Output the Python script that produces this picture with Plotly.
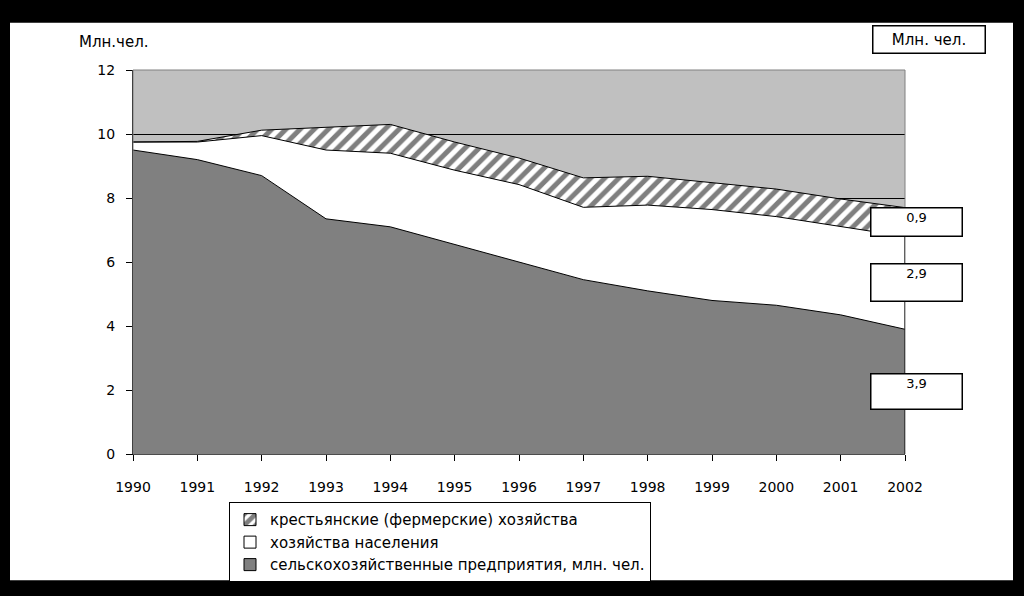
import plotly.graph_objects as go

years = [1990, 1991, 1992, 1993, 1994, 1995, 1996, 1997, 1998, 1999, 2000, 2001, 2002]
agri_enterprises = [9.5, 9.2, 8.7, 7.35, 7.1, 6.55, 6.0, 5.45, 5.1, 4.8, 4.65, 4.35, 3.9]
households = [0.25, 0.55, 1.25, 2.15, 2.3, 2.32, 2.42, 2.26, 2.68, 2.84, 2.77, 2.75, 2.9]
farms = [0.0, 0.02, 0.17, 0.7, 0.9, 0.88, 0.83, 0.92, 0.9, 0.84, 0.86, 0.87, 0.9]

names = ["сельскохозяйственные предприятия, млн. чел.",
         "хозяйства населения",
         "крестьянские (фермерские) хозяйства"]
y_ticks = [0, 2, 4, 6, 8, 10, 12]

FONT = "DejaVu Sans, Liberation Sans, Arial, sans-serif"
W, H = 1024, 599
L, R, T, B = 133, 905, 70, 460   # axis box in pixels
PB = H                           # bottom of the paper area in pixels


def px(x):
    return (x - L) / (R - L)


def py(y):
    return (PB - y) / (PB - T)


fig = go.Figure()

fig.add_trace(go.Scatter(x=years, y=agri_enterprises, name=names[0], stackgroup="s",
                         mode="lines", line=dict(color="black", width=1),
                         fillcolor="#808080", showlegend=False))
fig.add_trace(go.Scatter(x=years, y=households, name=names[1], stackgroup="s",
                         mode="lines", line=dict(color="black", width=1),
                         fillcolor="white", showlegend=False))
fig.add_trace(go.Scatter(x=years, y=farms, name=names[2], stackgroup="s",
                         mode="lines", line=dict(color="black", width=1),
                         fillcolor="white",
                         fillpattern=dict(shape="/", fgcolor="black", bgcolor="white",
                                          size=10, solidity=0.5),
                         showlegend=False))

# legend entries (square swatches)
fig.add_trace(go.Bar(x=[None], y=[None], name=names[2],
                     marker=dict(color="white", line=dict(color="black", width=1),
                                 pattern=dict(shape="/", fgcolor="black", bgcolor="white",
                                              size=12, solidity=0.6))))
fig.add_trace(go.Bar(x=[None], y=[None], name=names[1],
                     marker=dict(color="white", line=dict(color="black", width=1))))
fig.add_trace(go.Bar(x=[None], y=[None], name=names[0],
                     marker=dict(color="#808080", line=dict(color="black", width=1))))

last_a, last_h, last_f = agri_enterprises[-1], households[-1], farms[-1]
total_last = last_a + last_h + last_f

shapes = []
shapes.append(dict(type="rect", xref="paper", yref="paper", x0=0, x1=1, y0=py(B), y1=py(T),
                   line=dict(color="#808080", width=1), fillcolor="rgba(0,0,0,0)"))
shapes.append(dict(type="line", xref="x", yref="y", x0=years[-1], x1=years[-1],
                   y0=0, y1=total_last, line=dict(color="black", width=1)))
for (x0, y0, x1, y1) in [(-5, -5, W + 5, 22), (-5, 588, W + 5, H + 5),
                         (-5, -5, 10, H + 5), (1013, -5, W + 5, H + 5)]:
    shapes.append(dict(type="rect", xref="paper", yref="paper",
                       x0=px(x0), x1=px(x1), y0=py(y0), y1=py(y1),
                       line=dict(width=0), fillcolor="black"))

annotations = []
annotations.append(dict(text="Млн.чел.", xref="paper", yref="paper",
                        x=px(77), y=py(42), xanchor="left", yanchor="middle",
                        showarrow=False, font=dict(size=15, color="black", family=FONT)))
annotations.append(dict(text="Млн. чел.", xref="paper", yref="paper",
                        x=px(928.5), y=py(39.5), xanchor="center", yanchor="middle",
                        showarrow=False, width=109, height=24, borderpad=1,
                        bordercolor="black", borderwidth=1.5, bgcolor="white",
                        font=dict(size=15, color="black", family=FONT)))


def lab(v):
    return f"{v:.1f}".replace(".", ",")


for val, mid, h in [(last_f, last_a + last_h + last_f / 2, 25),
                    (last_h, last_a + last_h / 2, 34),
                    (last_a, last_a / 2, 32)]:
    annotations.append(dict(text=lab(val), xref="paper", yref="y", x=px(916.5), y=mid,
                            xanchor="center", yanchor="middle",
                            showarrow=False, width=88, height=h, valign="top",
                            borderpad=1, bordercolor="black", borderwidth=1.5,
                            bgcolor="white",
                            font=dict(size=13, color="black", family=FONT)))

fig.update_layout(
    width=W, height=H,
    margin=dict(l=L, r=W - R, t=T, b=H - PB, pad=0),
    paper_bgcolor="white",
    plot_bgcolor="white",
    font=dict(family=FONT, size=14, color="black"),
    showlegend=True,
    legend=dict(x=px(229), y=py(509), xanchor="left", yanchor="top",
                bordercolor="black", borderwidth=1, bgcolor="white",
                font=dict(size=15, color="black", family=FONT),
                traceorder="normal", tracegroupgap=0, itemwidth=30),
    shapes=shapes,
    annotations=annotations,
    xaxis=dict(range=[years[0], years[-1]], tickvals=years, ticks="outside",
               ticklen=6, tickcolor="black", showgrid=False, zeroline=False,
               showline=True, linecolor="black", linewidth=1,
               tickfont=dict(size=14, color="black"), ticklabelstandoff=14),
    yaxis=dict(range=[0, 12], tickvals=y_ticks, ticks="outside", ticklen=6,
               domain=[py(B), py(T)],
               tickcolor="black", showgrid=True, gridcolor="black", gridwidth=1,
               zeroline=False, showline=True, linecolor="black", linewidth=1,
               tickfont=dict(size=14, color="black"), ticklabelstandoff=8),
)

# grey background only behind the axis box
fig.add_shape(type="rect", xref="paper", yref="paper", x0=0, x1=1, y0=py(B), y1=py(T),
              line=dict(width=0), fillcolor="#C0C0C0", layer="below")

fig.write_html("out.html", config={"displayModeBar": False},
               post_script=("document.body.style.margin='0';"
                            "document.body.style.padding='0';"
                            "document.body.style.background='black';"
                            "document.documentElement.style.background='black';"))
